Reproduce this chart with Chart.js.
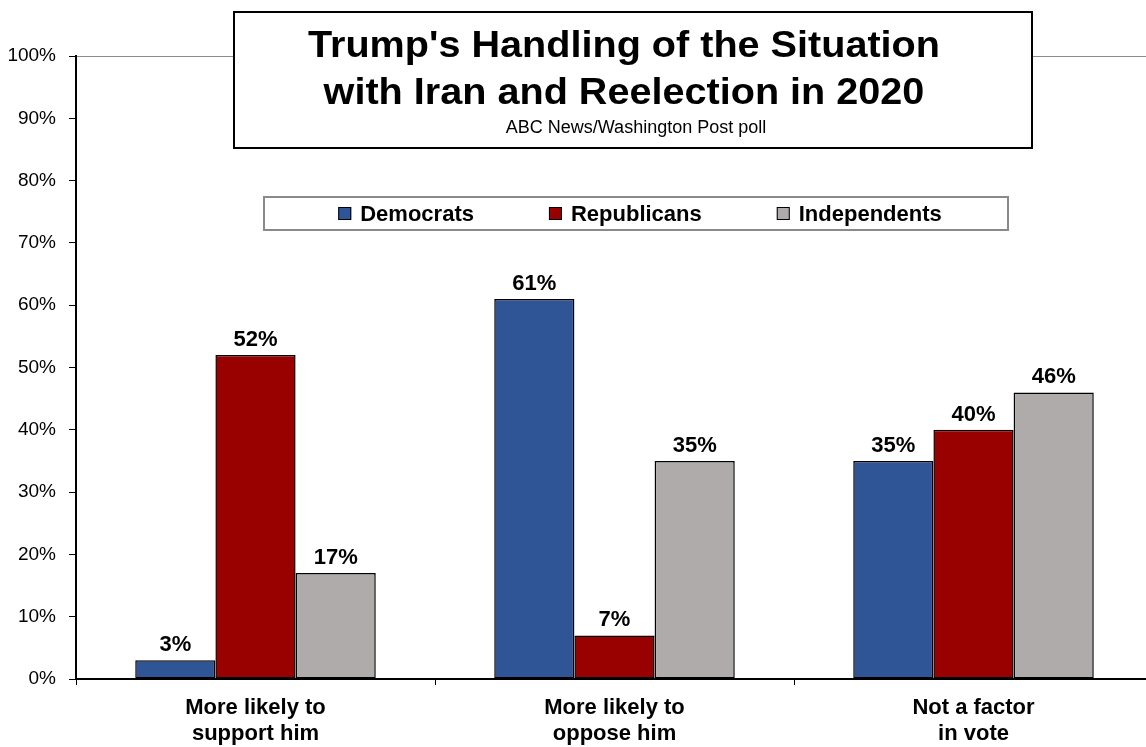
<!DOCTYPE html>
<html>
<head>
<meta charset="utf-8">
<title>Trump's Handling of the Situation with Iran and Reelection in 2020</title>
<script src="https://cdn.jsdelivr.net/npm/chart.js@4.4.1/dist/chart.umd.min.js"></script>
<style>
    html, body { margin: 0; padding: 0; background: #fff; overflow: hidden; }
    #wrap { position: relative; width: 1160px; height: 747px; }
</style>
</head>
<body>
<div id="wrap"><canvas id="iranChart"></canvas></div>
<script>
// Data
const categories = [
    ['More likely to', 'support him'],
    ['More likely to', 'oppose him'],
    ['Not a factor', 'in vote']
];
const seriesNames = ['Democrats', 'Republicans', 'Independents'];
const democrats = [3, 61, 35];
const republicans = [52, 7, 40];
const independents = [17, 35, 46];
const seriesColors = ['#2F5597', '#990000', '#AFABAB'];
const yTicks = [0, 10, 20, 30, 40, 50, 60, 70, 80, 90, 100];

const titleLines = ["Trump's Handling of the Situation", 'with Iran and Reelection in 2020'];
const subtitle = 'ABC News/Washington Post poll';

const FONT = "'Liberation Sans', Arial, sans-serif";
Chart.defaults.font.family = FONT;
Chart.defaults.color = '#000';

// value labels above each bar
const barLabels = {
    id: 'barLabels',
    afterDatasetsDraw(chart) {
        const ctx = chart.ctx;
        ctx.save();
        ctx.font = 'bold 22px ' + FONT;
        ctx.fillStyle = '#000';
        ctx.textAlign = 'center';
        ctx.textBaseline = 'alphabetic';
        chart.data.datasets.forEach((ds, i) => {
            chart.getDatasetMeta(i).data.forEach((bar, j) => {
                ctx.fillText(ds.data[j] + '%', bar.x, bar.y - 9);
            });
        });
        ctx.restore();
    }
};

// boxed title and boxed legend drawn on top of the plot
const boxes = {
    id: 'boxes',
    afterDraw(chart) {
        const ctx = chart.ctx;
        ctx.save();

        // title box
        ctx.fillStyle = '#fff';
        ctx.fillRect(234, 12, 798, 136);
        ctx.strokeStyle = '#000';
        ctx.lineWidth = 2;
        ctx.strokeRect(234, 12, 798, 136);

        ctx.fillStyle = '#000';
        ctx.textAlign = 'center';
        ctx.textBaseline = 'alphabetic';
        ctx.font = 'bold 36px ' + FONT;
        [57, 104].forEach((y, i) => {
            ctx.save();
            ctx.translate(624, y);
            ctx.scale(1.1, 1);
            ctx.fillText(titleLines[i], 0, 0);
            ctx.restore();
        });
        ctx.font = '18px ' + FONT;
        ctx.fillText(subtitle, 636, 133);

        // legend box
        ctx.fillStyle = '#fff';
        ctx.fillRect(264, 197, 744, 33);
        ctx.strokeStyle = '#8a8a8a';
        ctx.lineWidth = 2;
        ctx.strokeRect(264, 197, 744, 33);

        ctx.font = 'bold 22px ' + FONT;
        ctx.textAlign = 'left';
        const sq = 13, gapText = 9, gapItem = 75;
        const widths = chart.data.datasets.map(ds => ctx.measureText(ds.label).width);
        let total = widths.reduce((a, w) => a + sq + gapText + w, 0) + gapItem * (widths.length - 1);
        let x = 640 - total / 2;
        chart.data.datasets.forEach((ds, i) => {
            ctx.fillStyle = ds.backgroundColor;
            ctx.fillRect(x, 207, sq, sq);
            ctx.strokeStyle = '#000';
            ctx.lineWidth = 1;
            ctx.strokeRect(x + 0.5, 207.5, sq - 1, sq - 1);
            ctx.fillStyle = '#000';
            ctx.fillText(ds.label, x + sq + gapText, 221);
            x += sq + gapText + widths[i] + gapItem;
        });

        ctx.restore();
    }
};

const datasets = [democrats, republicans, independents].map((vals, i) => ({
    label: seriesNames[i],
    data: vals,
    backgroundColor: seriesColors[i],
    borderColor: '#000',
    borderWidth: 1.5,
    borderSkipped: false,
    categoryPercentage: 0.67,
    barPercentage: 1.0
}));

new Chart(document.getElementById('iranChart').getContext('2d'), {
    type: 'bar',
    data: { labels: categories, datasets: datasets },
    plugins: [barLabels, boxes],
    options: {
        responsive: true,
        maintainAspectRatio: false,
        animation: false,
        layout: { padding: { top: 56, right: 7, bottom: 0, left: 0 } },
        plugins: {
            legend: { display: false },
            title: { display: false },
            tooltip: { enabled: false }
        },
        scales: {
            x: {
                offset: true,
                grid: {
                    offset: true,
                    drawOnChartArea: false,
                    color: '#000',
                    tickColor: '#000',
                    tickLength: 6
                },
                border: { color: '#000', width: 2 },
                ticks: {
                    font: { size: 22, weight: 'bold', lineHeight: 1.17 },
                    color: '#000',
                    padding: 10,
                    maxRotation: 0
                },
                afterFit(scale) { scale.height = 68; }
            },
            y: {
                min: 0,
                max: 100,
                afterBuildTicks(scale) { scale.ticks = yTicks.map(v => ({ value: v })); },
                grid: {
                    color: ctx => (ctx.tick && ctx.tick.value === 100) ? '#8c8c8c' : 'rgba(0,0,0,0)',
                    tickColor: '#000',
                    tickLength: 7
                },
                border: { color: '#000', width: 2 },
                ticks: {
                    font: { size: 19 },
                    color: '#000',
                    padding: 13,
                    callback: v => v + '%'
                },
                afterFit(scale) { scale.width = 76; }
            }
        }
    }
});
</script>
</body>
</html>
